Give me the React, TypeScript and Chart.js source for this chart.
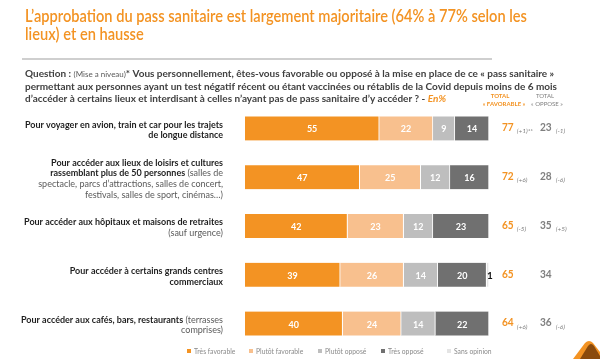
import React, { useEffect, useRef } from 'react';
import { Chart, registerables } from 'chart.js';

Chart.register(...registerables);

// ---------- DATA ----------
const categories = [
  'Voyager (avion, train, car)',
  'Lieux de loisirs et cultures',
  'Hôpitaux et maisons de retraite',
  'Grands centres commerciaux',
  'Cafés, bars, restaurants',
];
const seriesNames = ['Très favorable', 'Plutôt favorable', 'Plutôt opposé', 'Très opposé', 'Sans opinion'];
const tresFavorable = [55, 47, 42, 39, 40];
const plutotFavorable = [22, 25, 23, 26, 24];
const plutotOppose = [9, 12, 12, 14, 14];
const tresOppose = [14, 16, 23, 20, 22];
const sansOpinion = [0, 0, 0, 1, 0];
const totalFavorable = [77, 72, 65, 65, 64];
const favorableChange = ['(+1)**', '(+6)', '(-5)', '', '(+6)'];
const totalOppose = [23, 28, 35, 34, 36];
const opposeChange = ['(-1)', '(-6)', '(+5)', '', '(-6)'];

const titleLines = [
  'L’approbation du pass sanitaire est largement majoritaire (64% à 77% selon les',
  'lieux) et en hausse',
];

type Seg = { t: string; b?: boolean; c?: string; s?: number; i?: boolean; w?: number };

const questionLines: Seg[][] = [
  [
    { t: 'Question : ', b: true },
    { t: '(Mise a niveau)', b: false, s: 0.8 },
    { t: '* Vous personnellement, êtes-vous favorable ou opposé à la mise en place de ce « pass sanitaire »', b: true },
  ],
  [{ t: 'permettant aux personnes ayant un test négatif récent ou étant vaccinées ou rétablis de la Covid depuis moins de 6 mois', b: true }],
  [
    { t: 'd’accéder à certains lieux et interdisant à celles n’ayant pas de pass sanitaire d’y accéder ? - ', b: true },
    { t: 'En%', b: true, i: true, c: '#F39323' },
  ],
];

const rowLabels: Seg[][][] = [
  [[{ t: 'Pour voyager en avion, train et car pour les trajets', b: true }], [{ t: 'de longue distance', b: true }]],
  [
    [{ t: 'Pour accéder aux lieux de loisirs et cultures', b: true }],
    [{ t: 'rassemblant plus de 50 personnes', b: true }, { t: ' (salles de', b: false }],
    [{ t: 'spectacle, parcs d’attractions, salles de concert,', b: false }],
    [{ t: 'festivals, salles de sport, cinémas…)', b: false }],
  ],
  [[{ t: 'Pour accéder aux hôpitaux et maisons de retraites', b: true }], [{ t: '(sauf urgence)', b: false }]],
  [[{ t: 'Pour accéder à certains grands centres', b: true }], [{ t: 'commerciaux', b: true }]],
  [
    [{ t: 'Pour accéder aux cafés, bars, restaurants', b: true }, { t: ' (terrasses', b: false }],
    [{ t: 'comprises)', b: false }],
  ],
];

// ---------- STYLE ----------
const seriesColors = ['#F39323', '#F8C08E', '#BEBEBE', '#707070', '#E4E4E4'];
const ORANGE = '#F39323';
const FONT = 'Lato, "Open Sans", sans-serif';

function fontOf(s: Seg, size: number) {
  const sz = size * (s.s ?? 1);
  const weight = s.w ? `${s.w} ` : s.b ? 'bold ' : '';
  return `${s.i ? 'italic ' : ''}${weight}${sz}px ${FONT}`;
}

function measureSegs(ctx: CanvasRenderingContext2D, segs: Seg[], size: number) {
  let w = 0;
  for (const s of segs) {
    ctx.font = fontOf(s, size);
    w += ctx.measureText(s.t).width;
  }
  return w;
}

function drawSegs(
  ctx: CanvasRenderingContext2D,
  segs: Seg[],
  x: number,
  y: number,
  size: number,
  align: 'left' | 'right' | 'center',
  k: number,
  defColor: string,
  defColorNormal?: string
) {
  const total = measureSegs(ctx, segs, size) * k;
  const sx = align === 'right' ? x - total : align === 'center' ? x - total / 2 : x;
  ctx.save();
  ctx.translate(sx, y);
  ctx.scale(k, 1);
  ctx.textAlign = 'left';
  ctx.textBaseline = 'middle';
  let cx = 0;
  for (const s of segs) {
    ctx.font = fontOf(s, size);
    ctx.fillStyle = s.c ?? (s.b === false && defColorNormal ? defColorNormal : defColor);
    ctx.fillText(s.t, cx, 0);
    cx += ctx.measureText(s.t).width;
  }
  ctx.restore();
}

const decorPlugin = {
  id: 'decor',
  beforeDraw(chart: any) {
    const ctx = chart.ctx as CanvasRenderingContext2D;
    ctx.save();
    ctx.fillStyle = '#ffffff';
    ctx.fillRect(0, 0, chart.width, chart.height);
    ctx.restore();
  },
  afterDatasetsDraw(chart: any) {
    const ctx = chart.ctx as CanvasRenderingContext2D;
    chart.data.datasets.forEach((ds: any, di: number) => {
      const meta = chart.getDatasetMeta(di);
      meta.data.forEach((bar: any, i: number) => {
        const v = ds.data[i];
        if (!v) return;
        const p = bar.getProps(['x', 'y', 'base'], true);
        ctx.save();
        ctx.textBaseline = 'middle';
        if (di === 4) {
          ctx.fillStyle = '#111111';
          ctx.font = `bold 10px ${FONT}`;
          ctx.textAlign = 'left';
          ctx.fillText(String(v), p.x - 2, p.y + 1);
        } else {
          ctx.fillStyle = '#ffffff';
          ctx.font = `bold 9px ${FONT}`;
          ctx.textAlign = 'center';
          ctx.fillText(String(v), (p.x + p.base) / 2, p.y + 1);
        }
        ctx.restore();
      });
    });
  },
  afterDraw(chart: any) {
    const ctx = chart.ctx as CanvasRenderingContext2D;
    // Title
    const tSize = 18;
    const tSeg0: Seg[] = [{ t: titleLines[0], w: 600 }];
    const kT = 502 / measureSegs(ctx, tSeg0, tSize);
    titleLines.forEach((line, i) => {
      drawSegs(ctx, [{ t: line, w: 600 }], 25, 16 + i * 18.5, tSize, 'left', kT, ORANGE);
    });
    // separator
    ctx.save();
    ctx.strokeStyle = '#BFBFBF';
    ctx.lineWidth = 1.5;
    ctx.beginPath();
    ctx.moveTo(22, 59);
    ctx.lineTo(492, 59);
    ctx.stroke();
    ctx.restore();
    // Question
    const qSize = 10;
    const kQ = 532 / measureSegs(ctx, questionLines[1], qSize);
    questionLines.forEach((line, i) => {
      drawSegs(ctx, line, 25, 74 + i * 12.5, qSize, 'left', kQ, '#404040', '#595959');
    });
    // Total headers
    const hSize = 6;
    drawSegs(ctx, [{ t: 'TOTAL', b: true }], 500, 96, hSize, 'center', 1, ORANGE);
    drawSegs(ctx, [{ t: '« FAVORABLE »', b: true }], 504, 104, hSize, 'center', 1, ORANGE);
    drawSegs(ctx, [{ t: 'TOTAL', b: false }], 545, 96, hSize, 'center', 1, '#7F7F7F');
    drawSegs(ctx, [{ t: '« OPPOSE »', b: false }], 547, 104, hSize, 'center', 1, '#7F7F7F');

    // Row labels & totals
    const yScale = chart.scales.y;
    const rSize = 9;
    const kR = 198 / measureSegs(ctx, rowLabels[0][0], rSize);
    const lh = 10.6;
    categories.forEach((_, i) => {
      const cy = yScale.getPixelForValue(i);
      const lines = rowLabels[i];
      const y0 = cy - ((lines.length - 1) * lh) / 2 + 1.5;
      lines.forEach((line, li) => {
        drawSegs(ctx, line, 223, y0 + li * lh, rSize, 'right', kR, '#1E1E1E', '#5A5A5A');
      });
      const vSize = 11.5;
      const kV = 0.88;
      drawSegs(ctx, [{ t: String(totalFavorable[i]), b: true }], 502, cy - 1, vSize, 'left', kV, ORANGE);
      if (favorableChange[i]) {
        const w = measureSegs(ctx, [{ t: String(totalFavorable[i]), b: true }], vSize) * kV;
        drawSegs(ctx, [{ t: favorableChange[i], b: false, i: true }], 502 + w + 3, cy + 3, 6.5, 'left', 1, '#7F7F7F');
      }
      drawSegs(ctx, [{ t: String(totalOppose[i]), b: true }], 540, cy - 1, vSize, 'left', kV, '#7F7F7F');
      if (opposeChange[i]) {
        const w = measureSegs(ctx, [{ t: String(totalOppose[i]), b: true }], vSize) * kV;
        drawSegs(ctx, [{ t: opposeChange[i], b: false, i: true }], 540 + w + 4, cy + 3, 6.5, 'left', 1, '#7F7F7F');
      }
    });

    // Legend
    const legendX = [187, 249, 318, 381, 447];
    seriesNames.forEach((name, i) => {
      ctx.save();
      ctx.fillStyle = seriesColors[i];
      ctx.fillRect(legendX[i], 349, 4, 4);
      ctx.restore();
      drawSegs(ctx, [{ t: name, b: false }], legendX[i] + 7, 351.5, 7.5, 'left', 0.9, '#8A8A8A');
    });

    // Logo
    ctx.save();
    ctx.fillStyle = ORANGE;
    ctx.beginPath();
    ctx.moveTo(573, 359);
    ctx.lineTo(585, 343);
    ctx.quadraticCurveTo(589, 339, 593, 343);
    ctx.lineTo(600, 352);
    ctx.lineTo(600, 359);
    ctx.closePath();
    ctx.fill();
    ctx.fillStyle = '#8A4A0C';
    ctx.beginPath();
    ctx.moveTo(580, 359);
    ctx.lineTo(588, 346);
    ctx.quadraticCurveTo(591, 342, 594, 346);
    ctx.lineTo(600, 356);
    ctx.lineTo(600, 359);
    ctx.closePath();
    ctx.fill();
    ctx.restore();
  },
};

export default function App() {
  const ref = useRef<HTMLCanvasElement | null>(null);
  useEffect(() => {
    if (!ref.current) return;
    const series = [tresFavorable, plutotFavorable, plutotOppose, tresOppose, sansOpinion];
    const chart = new Chart(ref.current, {
      type: 'bar',
      data: {
        labels: categories,
        datasets: series.map((d, i) => ({
          label: seriesNames[i],
          data: d,
          backgroundColor: seriesColors[i],
          borderColor: '#ffffff',
          borderWidth: { top: 0, bottom: 0, left: 0, right: 1 },
          borderSkipped: false,
          barThickness: 24,
        })),
      },
      options: {
        indexAxis: 'y',
        animation: false,
        responsive: true,
        maintainAspectRatio: false,
        layout: { padding: { left: 245, right: 111, top: 104, bottom: 11 } },
        plugins: { legend: { display: false }, tooltip: { enabled: false } },
        scales: {
          x: { stacked: true, min: 0, max: 100, display: false },
          y: { stacked: true, display: false },
        },
      },
      plugins: [decorPlugin],
    });
    return () => chart.destroy();
  }, []);
  return (
    <div style={{ position: 'absolute', left: 0, top: 0, width: 600, height: 359 }}>
      <canvas ref={ref} />
    </div>
  );
}
